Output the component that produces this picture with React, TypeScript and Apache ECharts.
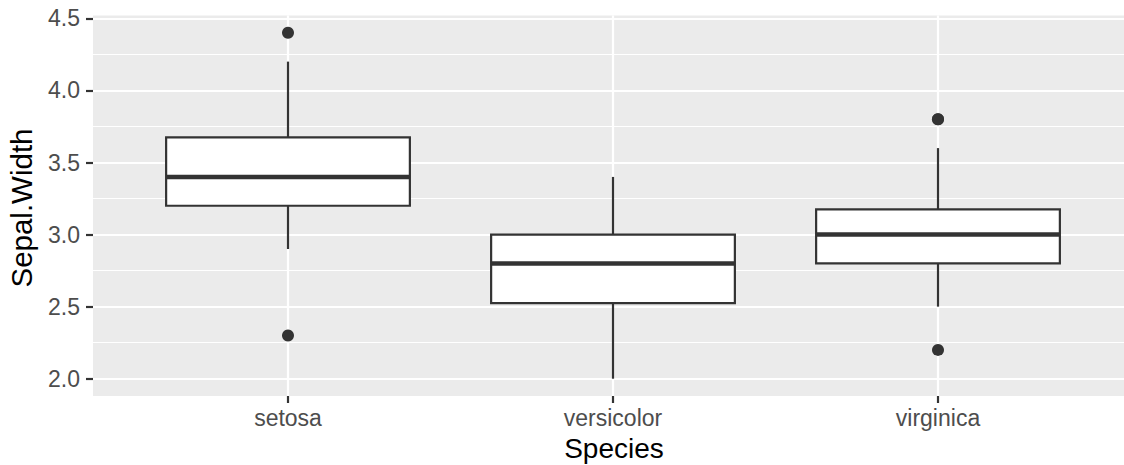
import React, { useEffect, useRef } from "react";
import * as echarts from "echarts";

const species = ["setosa", "versicolor", "virginica"];
const lowerWhisker = [2.9, 2.0, 2.5];
const q1 = [3.2, 2.525, 2.8];
const median = [3.4, 2.8, 3.0];
const q3 = [3.675, 3.0, 3.175];
const upperWhisker = [4.2, 3.4, 3.6];
const outlierSpecies = ["setosa", "setosa", "virginica", "virginica", "virginica"];
const outlierValues = [4.4, 2.3, 3.8, 3.8, 2.2];
const yMajorTicks = [2.0, 2.5, 3.0, 3.5, 4.0, 4.5];
const yMinorTicks = [2.25, 2.75, 3.25, 3.75, 4.25];

const FONT = "'Liberation Sans', Arial, Helvetica, sans-serif";

export default function App() {
  const ref = useRef<HTMLDivElement>(null);
  useEffect(() => {
    if (!ref.current) return;
    const chart = echarts.init(ref.current, null, { renderer: "svg" });
    const xPos = species.map((_, i) => i + 1);
    const boxData = species.map((_, i) => [
      xPos[i],
      lowerWhisker[i],
      q1[i],
      median[i],
      q3[i],
      upperWhisker[i],
    ]);
    const outData = outlierSpecies.map((s, i) => [species.indexOf(s) + 1, outlierValues[i]]);
    const half = 0.375;
    const stroke = "#333333";

    chart.setOption({
      animation: false,
      backgroundColor: "#ffffff",
      grid: {
        left: 93,
        right: -9,
        top: 15.5,
        bottom: 69,
        show: true,
        backgroundColor: "#EBEBEB",
        borderWidth: 0,
        containLabel: false,
        outerBoundsMode: "none",
      },
      xAxis: {
        type: "value",
        min: 0.4,
        max: 3.6,
        axisLine: { show: false },
        axisTick: {
          show: true,
          customValues: xPos,
          length: 7,
          lineStyle: { color: stroke, width: 2.2 },
        },
        axisLabel: {
          customValues: xPos,
          formatter: (v: number) => species[Math.round(v) - 1] ?? "",
          color: "#4D4D4D",
          fontSize: 23,
          fontFamily: FONT,
          margin: 10,
        },
        splitLine: { show: true, lineStyle: { color: "#ffffff", width: 2.2 } },
      },
      yAxis: [
        {
          type: "value",
          min: 1.88,
          max: 4.52,
          axisLine: { show: false },
          axisTick: {
            show: true,
            customValues: yMajorTicks,
            length: 7,
            lineStyle: { color: stroke, width: 2.2 },
          },
          axisLabel: {
            customValues: yMajorTicks,
            formatter: (v: number) => v.toFixed(1),
            color: "#4D4D4D",
            fontSize: 23,
            fontFamily: FONT,
            margin: 13,
          },
          splitLine: { show: true, lineStyle: { color: "#ffffff", width: 2.2 } },
        },
        {
          type: "value",
          min: 1.88,
          max: 4.52,
          position: "left",
          axisLine: { show: false },
          axisTick: { show: false, customValues: yMinorTicks },
          axisLabel: { show: false, customValues: yMinorTicks },
          splitLine: { show: true, lineStyle: { color: "#ffffff", width: 1.1 } },
        },
      ],
      graphic: [
        {
          type: "text",
          x: 614,
          y: 448.5,
          style: {
            text: "Species",
            fill: "#000000",
            font: `28px ${FONT}`,
            textAlign: "center",
            textVerticalAlign: "middle",
          },
        },
        {
          type: "text",
          x: 21.5,
          y: 208,
          rotation: Math.PI / 2,
          style: {
            text: "Sepal.Width",
            fill: "#000000",
            font: `29.5px ${FONT}`,
            textAlign: "center",
            textVerticalAlign: "middle",
          },
        },
      ],
      series: [
        {
          type: "custom",
          z: 3,
          encode: { x: 0, y: [1, 2, 3, 4, 5] },
          data: boxData,
          renderItem: (params: any, api: any) => {
            const x = api.value(0);
            const lw = api.value(1);
            const bq1 = api.value(2);
            const med = api.value(3);
            const bq3 = api.value(4);
            const uw = api.value(5);
            const [xl, yq3] = api.coord([x - half, bq3]);
            const [xr, yq1] = api.coord([x + half, bq1]);
            const [xc, ylw] = api.coord([x, lw]);
            const yuw = api.coord([x, uw])[1];
            const ym = api.coord([x, med])[1];
            return {
              type: "group",
              children: [
                { type: "line", shape: { x1: xc, y1: yuw, x2: xc, y2: yq3 }, style: { stroke, lineWidth: 2.2 } },
                { type: "line", shape: { x1: xc, y1: yq1, x2: xc, y2: ylw }, style: { stroke, lineWidth: 2.2 } },
                {
                  type: "rect",
                  shape: { x: xl, y: yq3, width: xr - xl, height: yq1 - yq3 },
                  style: { fill: "#ffffff", stroke, lineWidth: 2.2 },
                },
                { type: "line", shape: { x1: xl, y1: ym, x2: xr, y2: ym }, style: { stroke, lineWidth: 4.5 } },
              ],
            };
          },
        },
        {
          type: "scatter",
          z: 4,
          data: outData,
          symbol: "circle",
          symbolSize: 12,
          itemStyle: { color: stroke, opacity: 1 },
        },
      ],
    });
    return () => chart.dispose();
  }, []);
  return (
    <div
      ref={ref}
      style={{ position: "fixed", left: 0, top: 0, width: 1124, height: 465 }}
    />
  );
}
